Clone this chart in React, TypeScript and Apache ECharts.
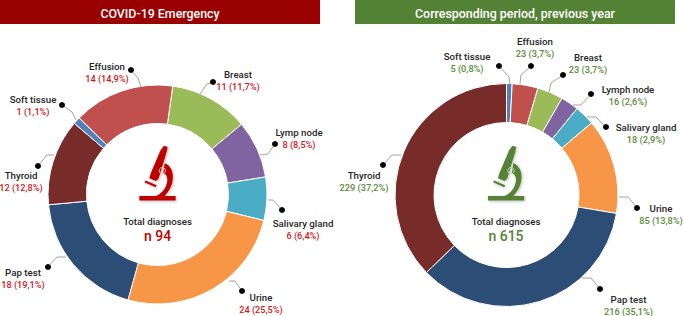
import React, { useEffect, useRef } from "react";
import * as echarts from "echarts";

const leftNames = ["Breast", "Lymp node", "Salivary gland", "Urine", "Pap test", "Thyroid", "Soft tissue", "Effusion"];
const leftValues = [11, 8, 6, 24, 18, 12, 1, 14];
const leftPercents = ["11,7%", "8,5%", "6,4%", "25,5%", "19,1%", "12,8%", "1,1%", "14,9%"];
const leftColors = ["#9BBB59", "#8064A2", "#4BACC6", "#F79646", "#2C4D75", "#772C2A", "#4F81BD", "#C0504D"];

const rightNames = ["Soft tissue", "Effusion", "Breast", "Lymph node", "Salivary gland", "Urine", "Pap test", "Thyroid"];
const rightValues = [5, 23, 23, 16, 18, 85, 216, 229];
const rightPercents = ["0,8%", "3,7%", "3,7%", "2,6%", "2,9%", "13,8%", "35,1%", "37,2%"];
const rightColors = ["#4F81BD", "#C0504D", "#9BBB59", "#8064A2", "#4BACC6", "#F79646", "#2C4D75", "#772C2A"];

const FONT = "Roboto";

// label block centre [x, y] per slice
const leftLabelPos = [[238, 80], [299, 138], [303, 229.5], [261, 303.5], [23, 278], [21, 181.5], [33, 105], [107, 72]];
const rightLabelPos = [[467, 62], [535, 47.5], [588, 63], [628, 95], [646, 133], [661, 214.5], [628.5, 305], [364, 181]];

// leader line: dot, elbow, end at the ring
const leftLeaders = [
  [[213, 82], [207, 84], [200, 94]],
  [[275, 144], [268, 154], [260, 155]],
  [[282, 210], [273, 200], [268, 200]],
  [[242, 291], [235, 281], [229, 281]],
  [[48, 267], [57, 257], [66, 257]],
  [[38, 166], [47, 155], [54, 155]],
  [[62, 105], [72, 112], [76, 120]],
  [[131, 70], [138, 78], [141, 87]],
];
const rightLeaders = [
  [[499, 66], [509, 77], [510, 84]],
  [[531, 66], [521, 75], [520, 84]],
  [[563, 75], [551, 83], [549, 92]],
  [[591, 94], [581, 105], [573, 105]],
  [[606, 127], [596, 117], [587, 117]],
  [[637, 208], [628, 197], [619, 197]],
  [[600, 289], [591, 278], [582, 278]],
  [[383, 165], [392, 155], [401, 155]],
];

const MICROSCOPE =
  "M102 47 L113 51 L110 66 L86 146 L78 153 L58 145 L62 131 L92 60 Z " +
  "M104 100 C124 106 132 130 128 152 C125 172 114 188 104 198 L137 198 L137 212 L28 212 L28 198 L78 198 " +
  "C95 192 110 175 112 152 C113 140 108 132 100 130 Z " +
  "M43 157 L47 152 L80 166 L77 172 Z";

echarts.graphic.registerShape("microscope", (echarts.graphic as any).extendPath(MICROSCOPE, {}));

function pieSeries(names: string[], values: number[], percents: string[], colors: string[], center: number[], radius: number[], startAngle: number, pos: number[][], valueColor: string) {
  return {
    type: "pie",
    center,
    radius,
    startAngle,
    clockwise: true,
    avoidLabelOverlap: false,
    silent: true,
    itemStyle: { borderColor: "#ffffff", borderWidth: 1 },
    label: {
      show: true,
      position: "outside",
      fontFamily: FONT,
      formatter: (p: any) => `{n|${p.name}}\n{v|${p.value} (${percents[p.dataIndex]})}`,
      rich: {
        n: { fontFamily: FONT, fontSize: 9.7, fontWeight: 500, color: "#262626", lineHeight: 12, align: "center" },
        v: { fontFamily: FONT, fontSize: 9.2, fontWeight: 500, color: valueColor, lineHeight: 12, align: "center" },
      },
    },
    labelLine: { show: false },
    labelLayout: (p: any) => ({ x: pos[p.dataIndex][0], y: pos[p.dataIndex][1], align: "center", verticalAlign: "middle" }),
    data: names.map((name, i) => ({ name, value: values[i], itemStyle: { color: colors[i] } })),
  };
}

function leaderGraphics(leaders: number[][][]) {
  const out: any[] = [];
  leaders.forEach((pts) => {
    out.push({ type: "polyline", shape: { points: pts }, style: { stroke: "#8c8c8c", lineWidth: 0.8, fill: "none" }, z: 5 });
    out.push({ type: "circle", shape: { cx: pts[0][0], cy: pts[0][1], r: 3 }, style: { fill: "#000000" }, z: 6 });
  });
  return out;
}

function banner(x: number, w: number, color: string, text: string) {
  return [
    { type: "rect", shape: { x, y: 0, width: w, height: 24 }, style: { fill: color }, z: 1 },
    { type: "text", x: x + w / 2, y: 13, style: { text, fill: "#ffffff", font: `500 12.4px ${FONT}`, textAlign: "center", textVerticalAlign: "middle" }, z: 2 },
  ];
}

function centre(cx: number, dx: number, color: string, ringColor: string, total: string) {
  return [
    { type: "microscope", x: 130 + dx, y: 130, scaleX: 1 / 3, scaleY: 1 / 3, style: { fill: color, shadowBlur: 3, shadowColor: "rgba(0,0,0,0.25)", shadowOffsetX: 1, shadowOffsetY: 1 }, z: 3 },
    { type: "circle", shape: { cx: 162.3 + dx, cy: 170.7, r: 3.2 }, style: { fill: "none", stroke: ringColor, lineWidth: 1 }, z: 4 },
    { type: "text", x: cx, y: 221, style: { text: "Total diagnoses", fill: "#262626", font: `500 9.7px ${FONT}`, textAlign: "center", textVerticalAlign: "middle" }, z: 4 },
    { type: "text", x: cx, y: 236, style: { text: total, fill: color, font: `500 14px ${FONT}`, textAlign: "center", textVerticalAlign: "middle" }, z: 4 },
  ];
}

export default function App() {
  const ref = useRef<HTMLDivElement>(null);
  useEffect(() => {
    document.body.style.margin = "0";
    const chart = echarts.init(ref.current!, undefined, { renderer: "svg" });
    chart.setOption({
      animation: false,
      backgroundColor: "#ffffff",
      series: [
        pieSeries(leftNames, leftValues, leftPercents, leftColors, [157.5, 194.5], [71, 109.5], 82, leftLabelPos, "#D0161B"),
        pieSeries(rightNames, rightValues, rightPercents, rightColors, [506.5, 195], [72.5, 111.5], 90, rightLabelPos, "#5A8A3A"),
      ],
      graphic: {
        elements: [
          ...banner(0, 320, "#990000", "COVID-19 Emergency"),
          ...banner(355, 320, "#548235", "Corresponding period, previous year"),
          ...leaderGraphics(leftLeaders),
          ...leaderGraphics(rightLeaders),
          ...centre(157.5, 0, "#C00000", "#e9c0c0", "n 94"),
          ...centre(506, 348.6, "#548235", "#c8dcb8", "n 615"),
        ],
      },
    });
    return () => chart.dispose();
  }, []);
  return <div ref={ref} style={{ width: 684, height: 316 }} />;
}
